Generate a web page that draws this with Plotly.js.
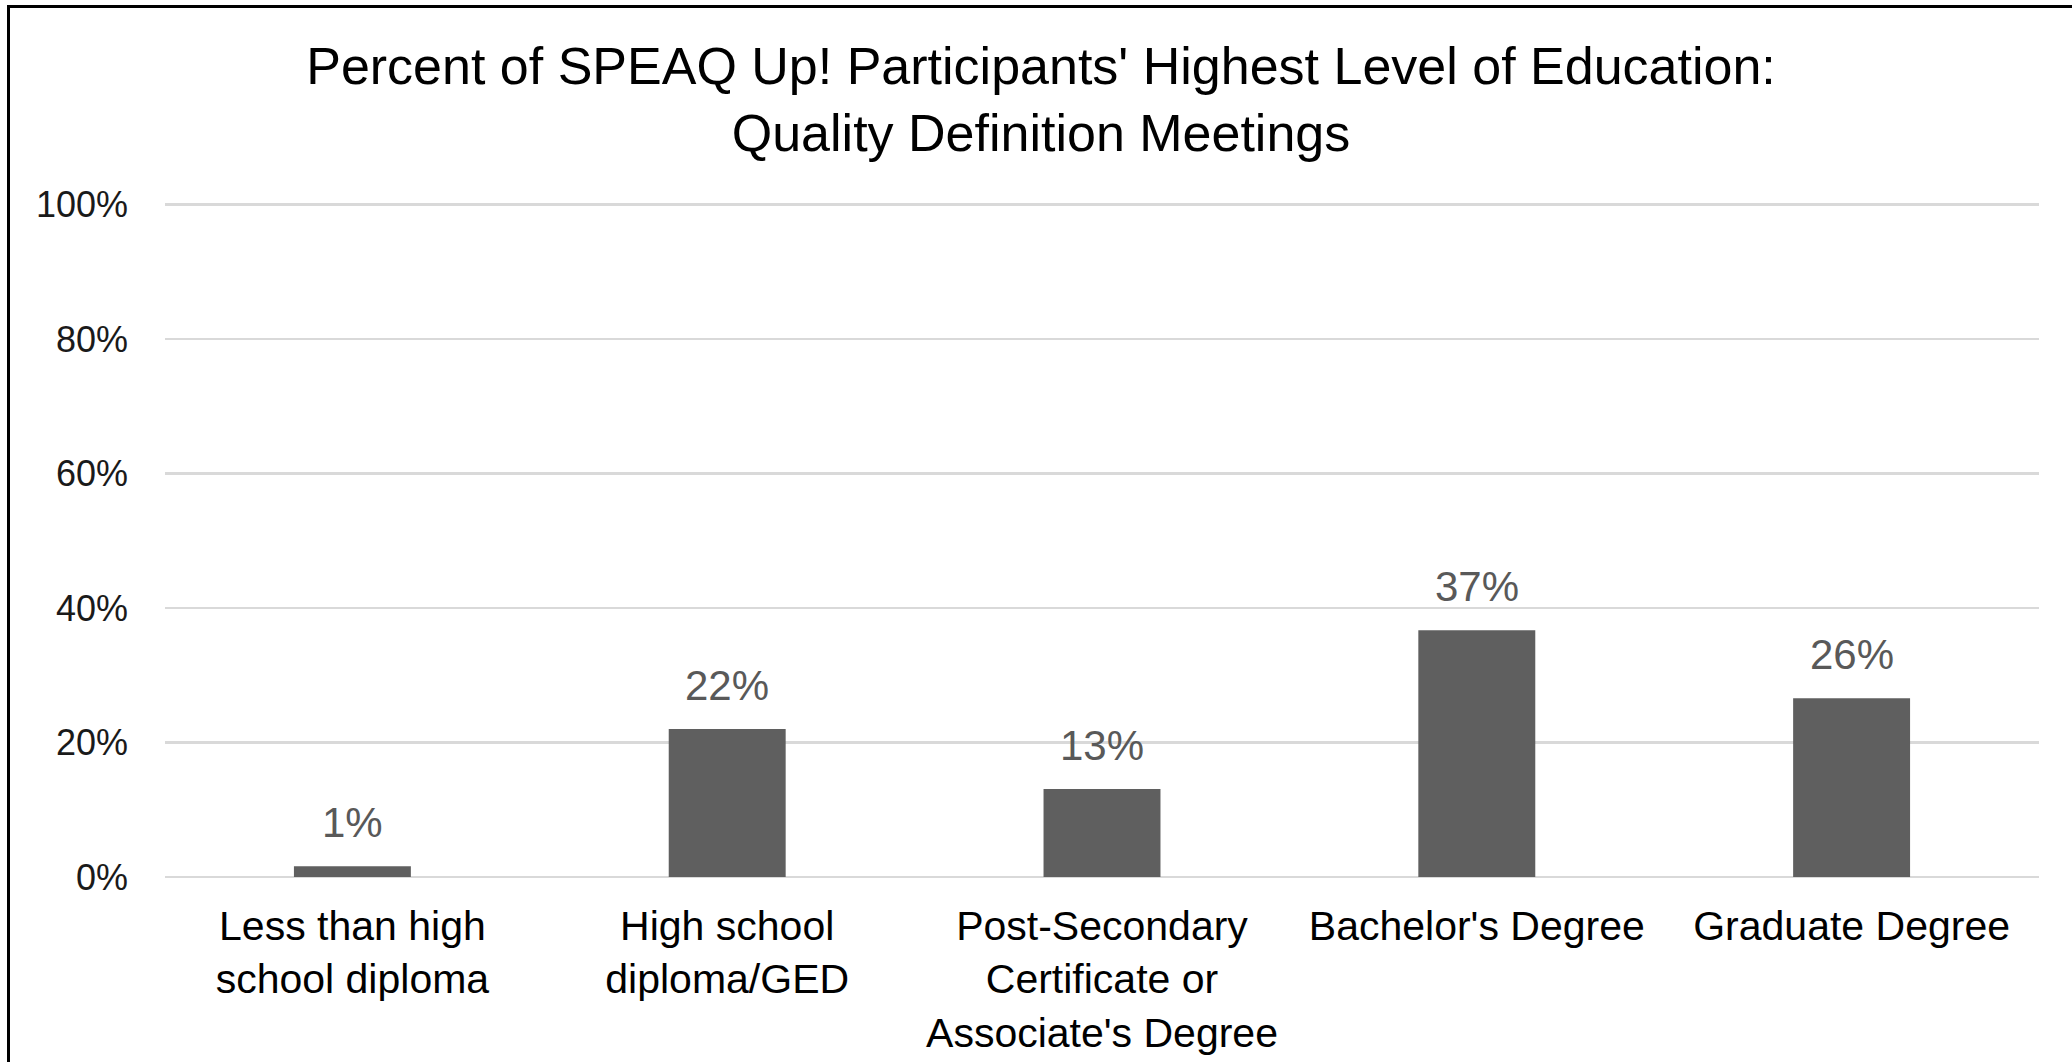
<!DOCTYPE html>
<html>
<head>
<meta charset="utf-8">
<script src="https://cdn.plot.ly/plotly-3.0.1.min.js"></script>
<style>
  body { margin: 0; background: #fff; }
  #frame {
    position: absolute; left: 7px; top: 5px;
    width: 2065px; height: 1057px;
    border-top: 3px solid #000; border-left: 3px solid #000;
  }
  #chart { width: 2062px; height: 1054px; }
</style>
</head>
<body>
<div id="frame"><div id="chart"></div></div>
<script>
// Chart data
var categories = [
    'Less than high<br>school diploma',
    'High school<br>diploma/GED',
    'Post-Secondary<br>Certificate or<br>Associate\'s Degree',
    'Bachelor\'s Degree',
    'Graduate Degree'
];
var shares = [0.016, 0.22, 0.131, 0.367, 0.266];
var shareLabels = ['1%', '22%', '13%', '37%', '26%'];
var yTicks = [0, 0.2, 0.4, 0.6, 0.8, 1.0];
var yTickLabels = ['0%', '20%', '40%', '60%', '80%', '100%'];

var font = 'Liberation Sans, Arial, sans-serif';

var trace = {
    x: categories,
    y: shares,
    type: 'bar',
    marker: {color: '#5f5f5f'},
    hoverinfo: 'none'
};

// value labels above each bar
var labels = categories.map(function(c, i) {
    return {
        x: c, y: shares[i], text: shareLabels[i],
        xref: 'x', yref: 'y',
        showarrow: false, yanchor: 'bottom', yshift: 18,
        font: {family: font, size: 42, color: '#595959'}
    };
});

var layout = {
    width: 2062,
    height: 1054,
    margin: {l: 155, r: 33, t: 190, b: 185},
    paper_bgcolor: '#fff',
    plot_bgcolor: '#fff',
    title: {
        text: 'Percent of SPEAQ Up! Participants\' Highest Level of Education:<br>Quality Definition Meetings',
        font: {family: font, size: 52, color: '#000'},
        x: 0.5, xref: 'container', xanchor: 'center',
        y: 0.928, yref: 'container', yanchor: 'top'
    },
    bargap: 0.688,
    showlegend: false,
    xaxis: {
        tickfont: {family: font, size: 41, color: '#000'},
        showgrid: false,
        showline: false,
        ticks: '',
        ticklabelstandoff: 21
    },
    yaxis: {
        range: [0, 1.01],
        tickvals: yTicks,
        ticktext: yTickLabels,
        tickfont: {family: font, size: 36, color: '#1a1a1a'},
        showgrid: true,
        gridcolor: '#d9d9d9',
        gridwidth: 2.5,
        zeroline: true,
        zerolinecolor: '#d9d9d9',
        zerolinewidth: 2.5,
        showline: false,
        ticks: '',
        ticklabelstandoff: 36
    },
    annotations: labels
};

Plotly.newPlot('chart', [trace], layout, {displayModeBar: false, staticPlot: true});
</script>
</body>
</html>
